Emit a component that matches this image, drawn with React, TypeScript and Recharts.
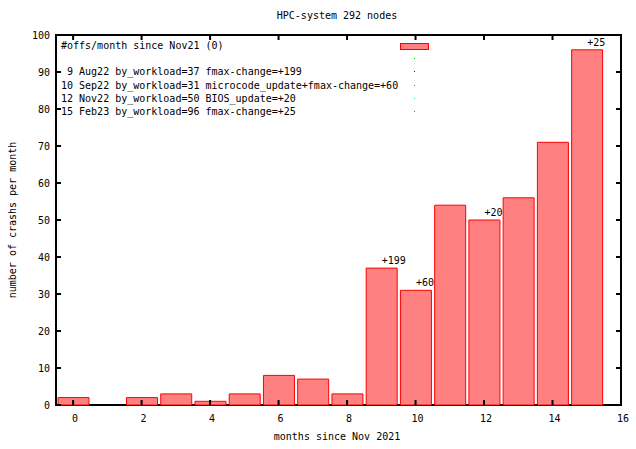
import { ComposedChart, Bar, XAxis, YAxis, ReferenceArea, LabelList, Legend } from 'recharts';

// months since Nov 2021 and crashes ("offs") per month
const months = [0, 1, 2, 3, 4, 5, 6, 7, 8, 9, 10, 11, 12, 13, 14, 15];
const crashes = [2, 0, 2, 3, 1, 3, 8, 7, 3, 37, 31, 54, 50, 56, 71, 96];

// annotated months and their labels
const noteMonths = [9, 10, 12, 15];
const notes = ['+199', '+60', '+20', '+25'];

const xTicks = [0, 2, 4, 6, 8, 10, 12, 14, 16];
const yTicks = [0, 10, 20, 30, 40, 50, 60, 70, 80, 90, 100];

const legendLines = [
  '#offs/month since Nov21 (0)',
  '',
  ' 9 Aug22 by_workload=37 fmax-change=+199',
  '10 Sep22 by_workload=31 microcode_update+fmax-change=+60',
  '12 Nov22 by_workload=50 BIOS_update=+20',
  '15 Feb23 by_workload=96 fmax-change=+25',
];
const legendDots = ['', '#00c000', '#0000ff', '#ff00ff', '#00e0e0', '#a0522d'];

const data = months.map((m, i) => ({
  month: m,
  crashes: crashes[i],
  note: noteMonths.includes(m) ? notes[noteMonths.indexOf(m)] : undefined,
}));

const FONT = '"DejaVu Sans Mono", monospace';
const W = 636;
const H = 449;
const PLOT_W = 565;
const PLOT_H = 370;
const TICK = 5;

function XTick({ x, y, payload }: any) {
  return (
    <g>
      <line x1={x} y1={y} x2={x} y2={y - TICK} stroke="#000" strokeWidth={2} />
      <line x1={x} y1={y - PLOT_H} x2={x} y2={y - PLOT_H + TICK} stroke="#000" strokeWidth={2} />
      <text x={x + 2} y={y + 16.5} textAnchor="middle" fontFamily={FONT} fontSize={10} fill="#000">
        {payload.value}
      </text>
    </g>
  );
}

function YTick({ x, y, payload }: any) {
  return (
    <g>
      <line x1={x} y1={y} x2={x + TICK} y2={y} stroke="#000" strokeWidth={2} />
      <line x1={x + PLOT_W} y1={y} x2={x + PLOT_W - TICK} y2={y} stroke="#000" strokeWidth={2} />
      <text x={x - 6} y={y + 3.5} textAnchor="end" fontFamily={FONT} fontSize={10} fill="#000">
        {payload.value}
      </text>
    </g>
  );
}

function NoteLabel({ x, y, width, value }: any) {
  if (!value) return null;
  return (
    <text x={x + width / 2} y={y - 4} fontFamily={FONT} fontSize={10} fill="#000">
      {value}
    </text>
  );
}

function KeyBox() {
  const row = 13.2;
  return (
    <div style={{ position: 'relative', width: 380, height: 80, fontFamily: FONT, fontSize: 10, color: '#000' }}>
      {legendLines.map((t, i) => (
        <div
          key={i}
          style={{ position: 'absolute', left: 0, top: i * row, height: row, lineHeight: `${row}px`, whiteSpace: 'pre' }}
        >
          {t}
        </div>
      ))}
      <div
        style={{
          position: 'absolute', left: 339, top: 4, width: 27, height: 5,
          background: '#ff8080', border: '1px solid #ff0000',
        }}
      />
      {legendDots.map((c, i) =>
        c ? (
          <div key={i} style={{ position: 'absolute', left: 353, top: i * row + 6, width: 1, height: 1, background: c }} />
        ) : null
      )}
    </div>
  );
}

export default function App() {
  return (
    <div style={{ position: 'absolute', left: 0, top: 0, width: W, height: H, background: '#fff' }}>
      <div
        style={{
          position: 'absolute', left: 237, top: 9, width: 200, textAlign: 'center',
          fontFamily: FONT, fontSize: 10, lineHeight: '13.2px', zIndex: 2,
        }}
      >
        HPC-system 292 nodes
      </div>
      <ComposedChart width={W} height={H} data={data} margin={{ top: 35, right: 15, bottom: 0, left: 0 }}>
        <XAxis
          dataKey="month"
          type="number"
          domain={[-0.5, 16]}
          ticks={xTicks}
          height={44}
          axisLine={false}
          tickLine={false}
          tickSize={0}
          tickMargin={0}
          tick={<XTick />}
          interval={0}
          label={{
            content: ({ viewBox }: any) => (
              <text
                x={viewBox.x + viewBox.width / 2 - 1.5}
                y={440}
                textAnchor="middle"
                fontFamily={FONT}
                fontSize={10}
                fill="#000"
              >
                months since Nov 2021
              </text>
            ),
          }}
        />
        <YAxis
          type="number"
          domain={[0, 100]}
          ticks={yTicks}
          width={56}
          axisLine={false}
          tickLine={false}
          tickSize={0}
          tickMargin={0}
          tick={<YTick />}
          interval={0}
          label={{
            content: ({ viewBox }: any) => {
              const cy = viewBox.y + viewBox.height / 2;
              return (
                <text
                  x={12.5}
                  y={cy}
                  transform={`rotate(-90, 12.5, ${cy})`}
                  textAnchor="middle"
                  dominantBaseline="central"
                  fontFamily={FONT}
                  fontSize={10}
                  fill="#000"
                >
                  number of crashs per month
                </text>
              );
            },
          }}
        />
        <Bar dataKey="crashes" barSize={31} fill="#ff8080" stroke="#ff0000" strokeWidth={1} isAnimationActive={false}>
          <LabelList dataKey="note" content={<NoteLabel />} />
        </Bar>
        <ReferenceArea x1={-0.5} x2={16} y1={0} y2={100} fill="none" stroke="#000" strokeWidth={2} ifOverflow="visible" />
        <Legend
          layout="vertical"
          align="center"
          verticalAlign="middle"
          content={<KeyBox />}
          wrapperStyle={{ left: 61, top: 39, width: 380 }}
        />
      </ComposedChart>
    </div>
  );
}
